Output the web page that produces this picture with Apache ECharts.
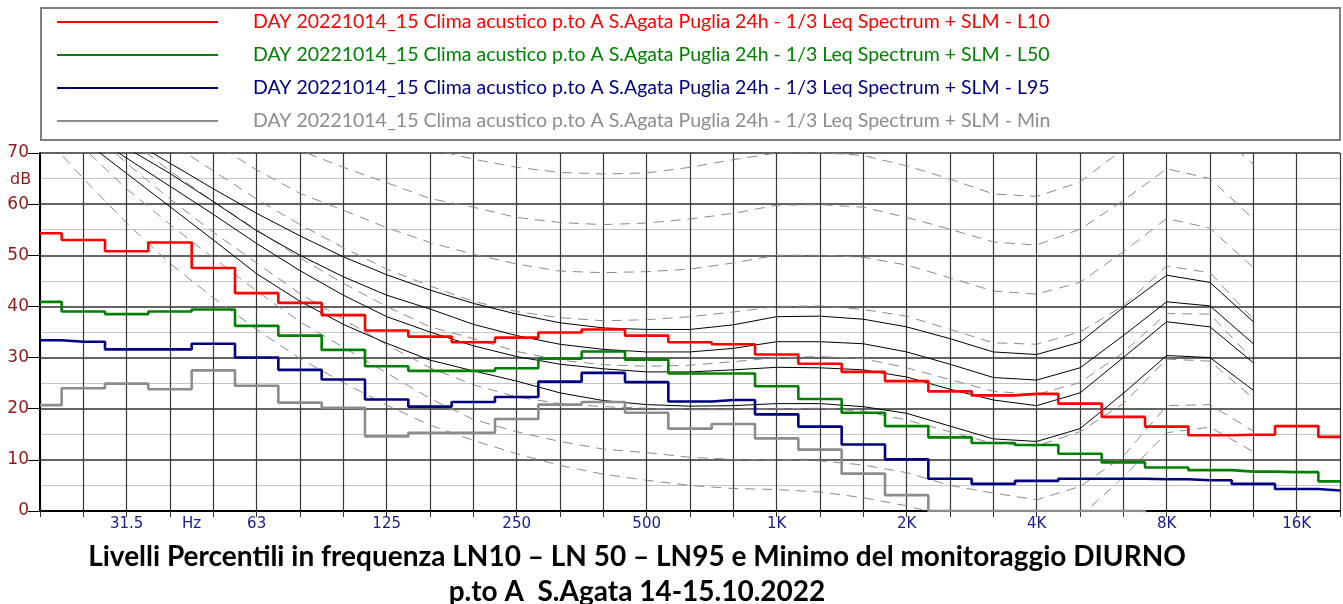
<!DOCTYPE html>
<html>
<head>
<meta charset="utf-8">
<script src="https://cdn.jsdelivr.net/npm/echarts@6/dist/echarts.min.js"></script>
<style>
  html, body { margin: 0; padding: 0; background: #fff; }
  #chart { width: 1343px; height: 604px; }
</style>
</head>
<body>
<div id="chart"></div>
<script>
// 1/3-octave band centres (Hz), one per step of the x axis (index 0 = 20 Hz)
const bands = [20, 25, 31.5, 40, 50, 63, 80, 100, 125, 160, 200, 250, 315, 400, 500, 630, 800,
  1000, 1250, 1600, 2000, 2500, 3150, 4000, 5000, 6300, 8000, 10000, 12500, 16000, 20000];

// tick labels placed on band indices
const tickLabels = { 2: '31.5', 3.5: 'Hz', 5: '63', 8: '125', 11: '250', 14: '500', 17: '1K',
  20: '2K', 23: '4K', 26: '8K', 29: '16K' };

const seriesNames = [
  'DAY 20221014_15 Clima acustico p.to A S.Agata Puglia 24h - 1/3 Leq Spectrum + SLM - L10',
  'DAY 20221014_15 Clima acustico p.to A S.Agata Puglia 24h - 1/3 Leq Spectrum + SLM - L50',
  'DAY 20221014_15 Clima acustico p.to A S.Agata Puglia 24h - 1/3 Leq Spectrum + SLM - L95',
  'DAY 20221014_15 Clima acustico p.to A S.Agata Puglia 24h - 1/3 Leq Spectrum + SLM - Min'
];

// percentile levels per band, dB
const L10 = [54.3, 53.0, 50.8, 52.5, 47.5, 42.6, 40.7, 38.3, 35.3, 34.1, 33.0, 33.9, 34.9, 35.5, 34.3, 33.0,
  32.6, 30.6, 28.8, 27.2, 25.4, 23.4, 22.6, 22.9, 21.0, 18.4, 16.5, 14.8, 14.9, 16.6, 14.5];
const L50 = [40.9, 39.0, 38.5, 39.0, 39.4, 36.2, 34.3, 31.5, 28.3, 27.4, 27.4, 27.9, 29.8, 31.2, 29.6, 26.9,
  26.9, 24.4, 21.9, 19.2, 16.6, 14.4, 13.3, 12.9, 11.2, 9.5, 8.5, 8.0, 7.7, 7.6, 5.8];
const L95 = [33.4, 33.1, 31.6, 31.6, 32.7, 30.0, 27.6, 25.7, 21.8, 20.4, 21.3, 22.3, 25.3, 27.0, 25.2, 21.4,
  21.7, 18.9, 16.5, 13.0, 10.1, 6.3, 5.3, 5.9, 6.3, 6.3, 6.2, 6.0, 5.3, 4.3, 4.0];
const LMin = [20.7, 24.0, 24.9, 23.8, 27.5, 24.5, 21.2, 20.2, 14.6, 15.3, 15.3, 18.0, 20.8, 21.3, 19.2, 16.1,
  17.0, 14.2, 12.0, 7.3, 3.1, 0, 0, 0, 0, 0, -1, -1, -1, -1, -1];

// reference contours, 20 Hz .. 12.5 kHz (dashed: threshold and 10..70 phon)
const contThr = [74.3, 65.0, 56.3, 48.4, 41.7, 35.5, 29.8, 25.1, 20.7, 16.8, 13.8, 11.2, 8.9, 7.2, 6.0, 5.0, 4.4,
  4.2, 3.7, 2.6, 1.0, -1.2, -3.6, -3.9, -1.1, 6.6, 15.3, 16.4, 11.6];
const cont10 = [79, 71, 63, 56, 49.5, 43, 37, 32, 27, 22, 17.9, 15.5, 13.6, 12.1, 11.4, 10.5, 10.1,
  10, 9.8, 9, 7.5, 5, 3.5, 2.2, 4.8, 10.7, 20.6, 20.8, 15.6];
const cont20 = [83, 75.5, 68, 61, 54.5, 48.5, 42.5, 37.5, 32.5, 28, 24.7, 22.3, 21, 20.4, 20.1, 19.8, 19.8,
  20, 20.1, 19.5, 17.8, 15.5, 13.2, 12.7, 15.5, 21, 29.7, 29.3, 22];
const cont30 = [87, 80, 73, 66.5, 60.5, 55, 49.5, 44.5, 40, 36, 33.7, 31.2, 29.5, 28.6, 28.3, 28.5, 29.2,
  30, 30.2, 29.8, 28, 25.7, 23.4, 22.8, 25.1, 31, 38.6, 38.5, 29.5];
const cont40 = [91, 84.5, 78, 72, 66.5, 61, 56, 51.5, 47.3, 44, 41, 39, 37.8, 37.2, 37.4, 38, 38.9,
  40, 40.1, 39.4, 38.1, 35.5, 32.9, 32.6, 35, 40.1, 47.9, 46.6, 37.5];
const cont50 = [95, 89, 83, 77.5, 72, 66.7, 62.1, 58.8, 55.4, 52.5, 50.2, 48.3, 46.9, 46.6, 46.8, 47.3, 48.5,
  50, 50, 49.6, 48.1, 45.6, 43, 42.4, 44.7, 50.7, 57.2, 55.3, 47.6];
const cont60 = [99, 94, 89, 84, 79, 74.5, 70.5, 67.2, 64.2, 61.1, 59.4, 57.4, 56.4, 56, 56.3, 57.1, 58.2,
  59.8, 59.9, 59.4, 57.4, 55.1, 52.6, 52, 55.1, 60.7, 66.9, 65, 57.1];
const cont70 = [104, 99.5, 95, 90.5, 86, 82, 78.5, 75.5, 73, 70.8, 68.8, 67.2, 66.2, 65.9, 66.1, 67.2, 68.7,
  70, 70.1, 69.5, 67.5, 64.9, 62, 61.5, 64.3, 70.8, 76.5, 75, 67.8];

// solid contours
const solid1 = [83, 78, 73, 68, 63, 58.2, 53.8, 49.7, 46.2, 43.2, 40.6, 38.5, 36.8, 35.8, 35.5, 35.5, 36.4,
  38, 38.1, 37.5, 36, 33.7, 31.1, 30.6, 33, 39.8, 46.1, 44.7, 37];
const solid2 = [81, 76, 71, 66, 60.5, 54.8, 50, 45.8, 42.2, 39.5, 36.5, 34.3, 32.6, 31.6, 31.1, 31.1, 31.8,
  33.1, 33.1, 32.7, 31.1, 28.7, 26.1, 25.6, 28, 34.3, 40.9, 40.1, 32.7];
const solid3 = [80, 74.5, 69, 63.5, 58, 52.3, 47, 42.2, 38, 35, 32.3, 30.2, 28.7, 27.8, 27.2, 27.2, 27.6,
  28.1, 28, 27.6, 26.2, 23.8, 21.7, 20.6, 23.1, 30, 37, 36, 29];
const solid4 = [79, 72.5, 66, 59.5, 53, 46.4, 41, 36.5, 32.8, 29.5, 27.4, 25.4, 23.1, 21.6, 20.8, 20.5, 20.6,
  21, 21, 20.4, 19.1, 16.6, 14.1, 13.6, 16.1, 23, 30.4, 30, 23.6];

const colors = ['#ff0000', '#008000', '#000080', '#8c8c8c'];

const toPoints = arr => arr.map((v, i) => [i, v]);

const stepSeries = [L10, L50, L95, LMin].map((arr, k) => ({
  name: seriesNames[k],
  type: 'line',
  step: 'middle',
  data: toPoints(arr),
  symbol: 'none',
  clip: true,
  z: 10 - k,
  lineStyle: { color: colors[k], width: 2.6 },
  itemStyle: { color: colors[k] },
  emphasis: { disabled: true },
  animation: false
}));

const dashedSeries = [contThr, cont10, cont20, cont30, cont40, cont50, cont60, cont70].map((arr, k) => ({
  name: 'dashed-' + k,
  type: 'line',
  data: toPoints(arr),
  symbol: 'none',
  clip: true,
  silent: true,
  z: 3,
  lineStyle: { color: '#8a8a8a', width: 1, type: [10, 7] },
  animation: false
}));

const solidSeries = [solid1, solid2, solid3, solid4].map((arr, k) => ({
  name: 'solid-' + k,
  type: 'line',
  data: toPoints(arr),
  symbol: 'none',
  clip: true,
  silent: true,
  z: 4,
  lineStyle: { color: '#000000', width: 1 },
  animation: false
}));

const chart = echarts.init(document.getElementById('chart'), null, { renderer: 'canvas' });

chart.setOption({
  backgroundColor: '#ffffff',
  animation: false,
  title: {
    text: 'Livelli Percentili in frequenza LN10 \u2013 LN 50 \u2013 LN95 e Minimo del monitoraggio DIURNO\np.to A  S.Agata 14-15.10.2022',
    left: 632,
    top: 534,
    textAlign: 'center',
    textStyle: {
      fontFamily: 'Lato',
      fontWeight: 'bold',
      fontSize: 28,
      lineHeight: 35,
      color: '#000000'
    }
  },
  legend: {
    orient: 'vertical',
    left: 57,
    top: 12,
    padding: 0,
    icon: 'rect',
    itemWidth: 161,
    itemHeight: 2,
    itemGap: 13,
    selectedMode: false,
    data: seriesNames.map((n, k) => ({ name: n, textStyle: { color: colors[k] } })),
    textStyle: {
      fontFamily: 'Lato',
      fontSize: 19.5,
      lineHeight: 20,
      padding: [0, 0, 0, 30]
    }
  },
  graphic: [
    {
      type: 'rect',
      shape: { x: 41, y: 8, width: 1299, height: 132 },
      style: { fill: 'none', stroke: '#7f7f7f', lineWidth: 2 },
      z: 0
    },
    {
      type: 'text',
      left: 10,
      top: 172,
      style: { text: 'dB', fontFamily: 'DejaVu Sans', fontSize: 16, fill: '#8b1a1a' }
    }
  ],
  grid: { left: 40, right: 0, top: 153, bottom: 93, containLabel: false },
  xAxis: [
    {
      type: 'value',
      min: 0,
      max: 30,
      interval: 1,
      axisLine: { show: true, lineStyle: { color: '#000', width: 2 } },
      axisTick: { show: true, length: 6, lineStyle: { color: '#333', width: 1 } },
      axisLabel: { show: false },
      splitLine: { show: true, lineStyle: { color: '#383838', width: 1.2 } }
    },
    {
      type: 'value',
      min: 0,
      max: 30,
      interval: 0.5,
      position: 'bottom',
      axisLine: { show: false },
      axisTick: { show: false },
      splitLine: { show: false },
      axisLabel: {
        show: true,
        margin: 6,
        fontFamily: 'DejaVu Sans',
        fontSize: 15,
        color: '#1a1a8c',
        showMinLabel: true,
        showMaxLabel: true,
        formatter: v => tickLabels[v] || ''
      }
    }
  ],
  yAxis: {
    type: 'value',
    min: 0,
    max: 70,
    interval: 10,
    axisLine: { show: true, lineStyle: { color: '#000', width: 2 } },
    axisTick: { show: true, length: 12, lineStyle: { color: '#000', width: 1 } },
    axisLabel: {
      margin: 11,
      fontFamily: 'DejaVu Sans',
      fontSize: 17,
      color: '#8b1a1a'
    },
    splitLine: { show: true, lineStyle: { color: '#303030', width: 1.6 } },
    minorTick: { show: false, splitNumber: 2 },
    minorSplitLine: { show: true, lineStyle: { color: '#c4c4c4', width: 1.2 } }
  },
  series: [...dashedSeries, ...solidSeries, ...stepSeries]
});
</script>
</body>
</html>
